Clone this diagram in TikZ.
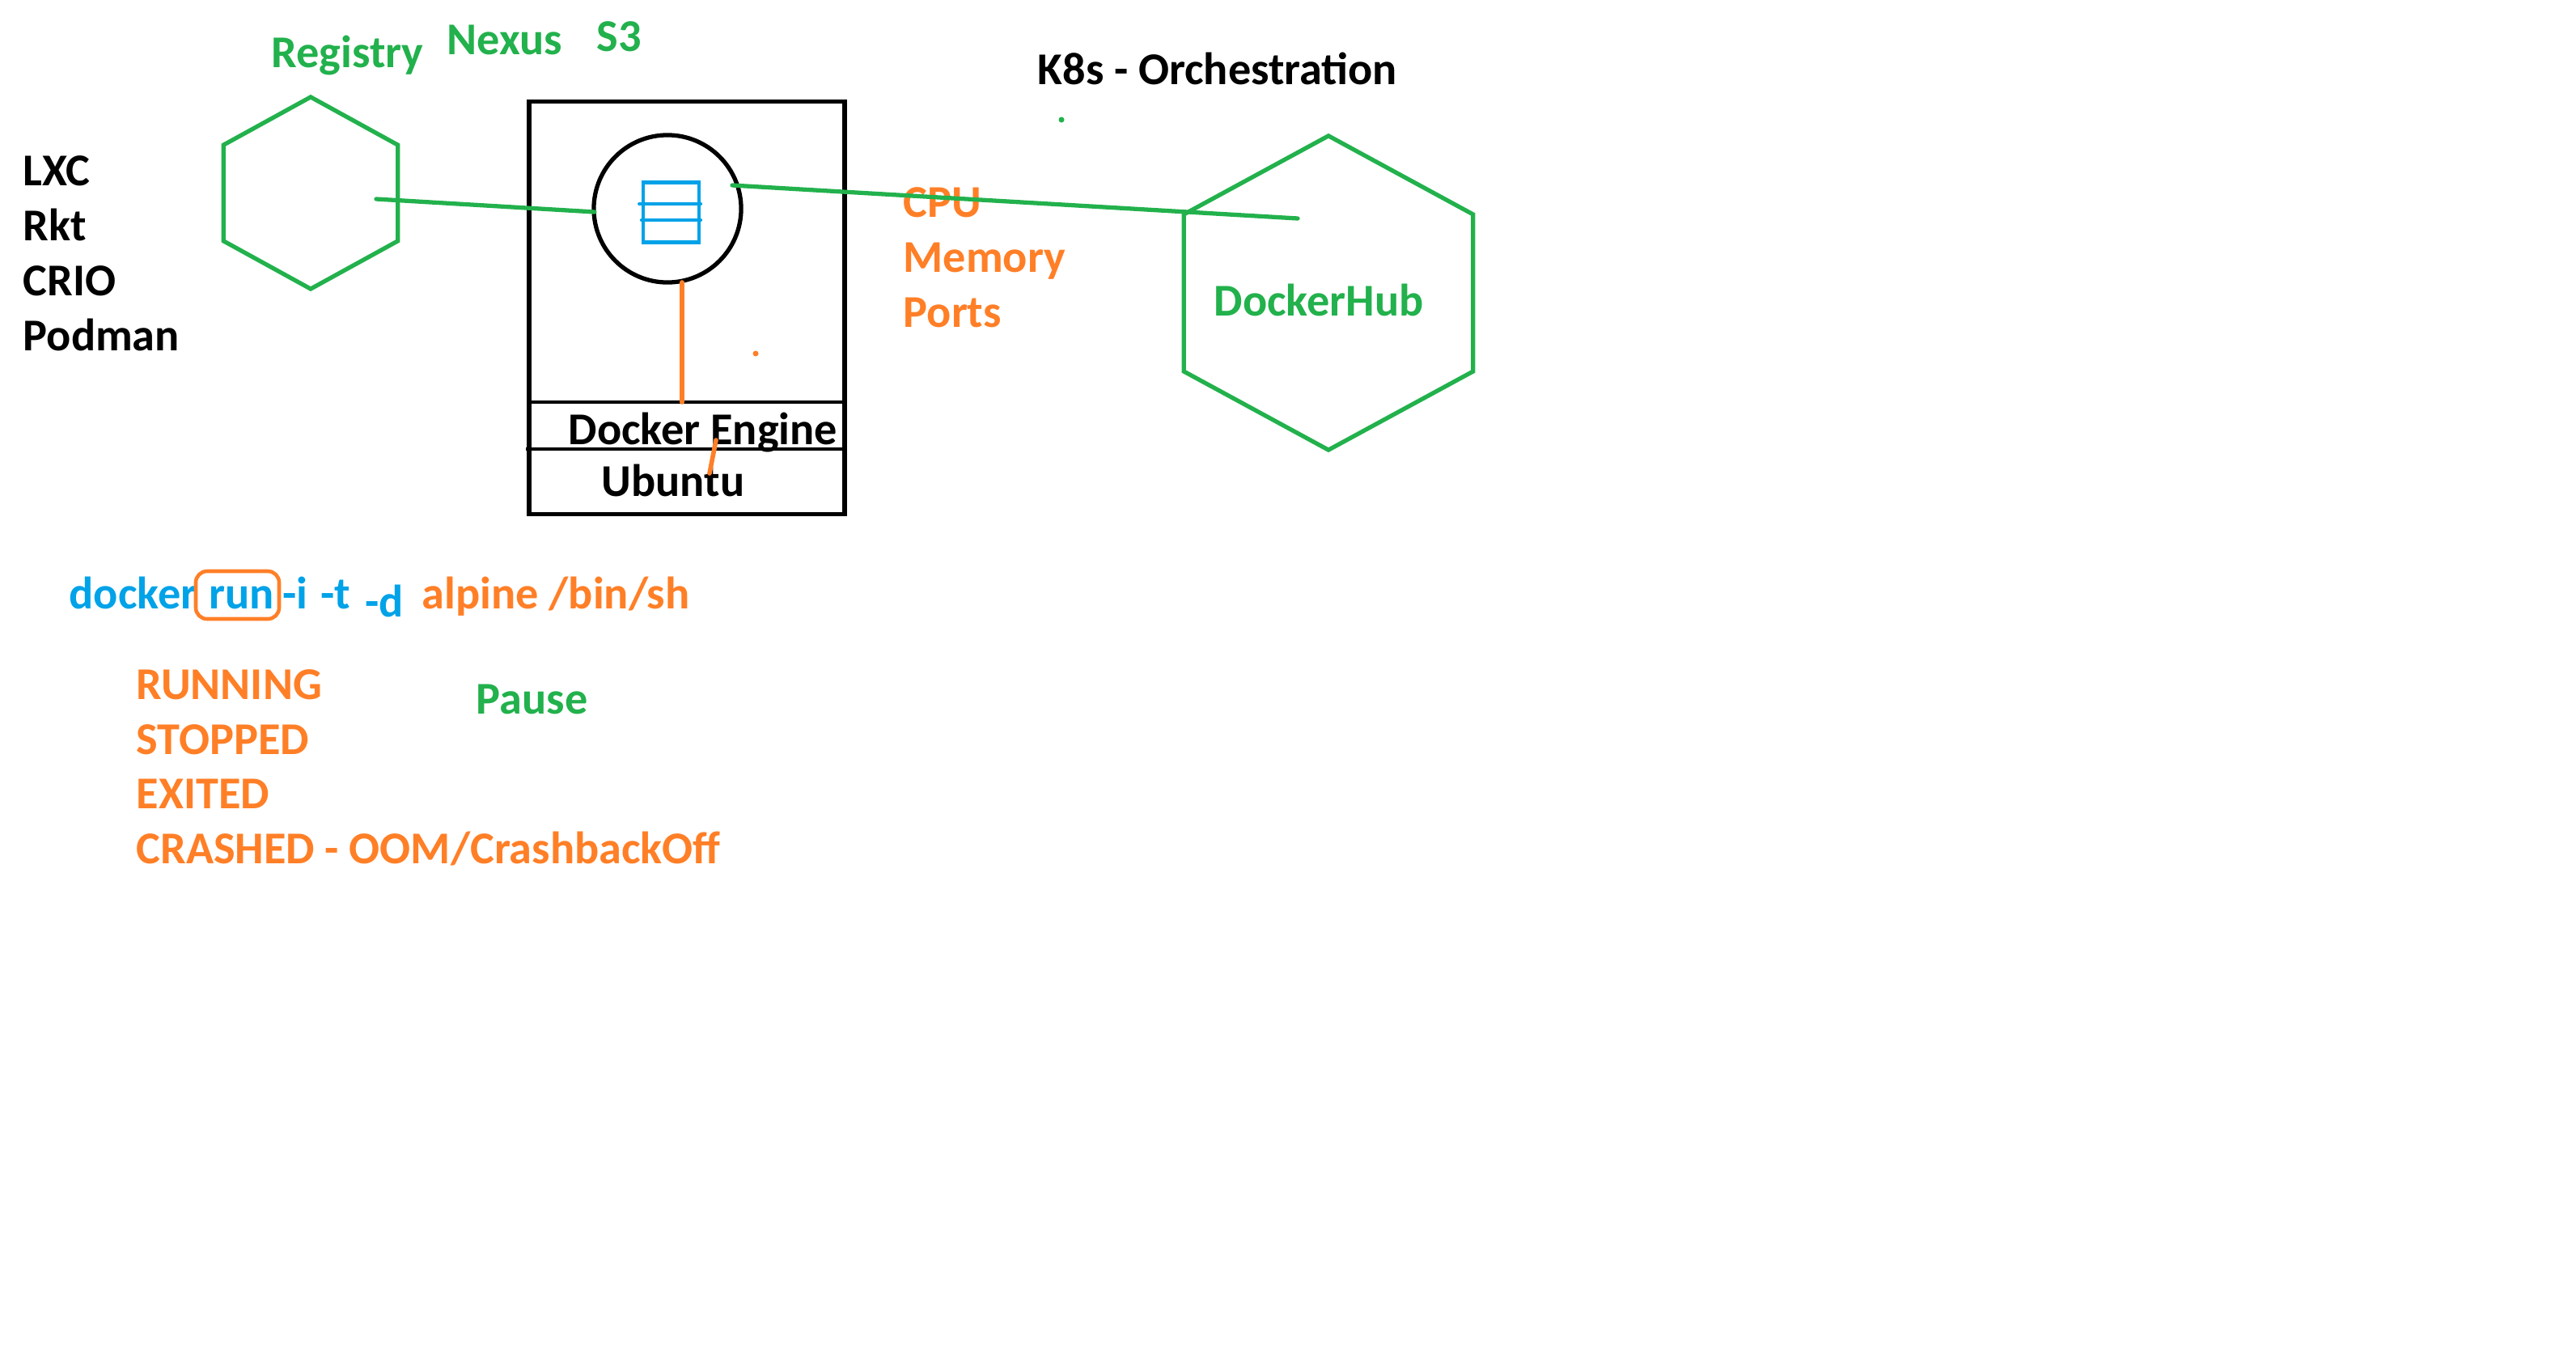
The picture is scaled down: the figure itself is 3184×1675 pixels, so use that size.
\documentclass[tikz,border=0pt]{standalone}
\usepackage{fontspec}
\setmainfont{Carlito}
\usepackage{xcolor}
\usetikzlibrary{shapes.geometric, positioning, calc}
\definecolor{paintgreen}{HTML}{22B14C}
\definecolor{paintorange}{HTML}{FF7F27}
\definecolor{paintblue}{HTML}{00A2E8}

\begin{document}
\begin{tikzpicture}[
    x=0.01cm, y=-0.01cm,
    label/.style={anchor=base west, inner sep=0pt, font=\fontsize{16}{19}\selectfont\bfseries},
    greenlabel/.style={label, text=paintgreen},
    orangelabel/.style={label, text=paintorange},
    bluelabel/.style={label, text=paintblue},
    hexnode/.style={regular polygon, regular polygon sides=6, regular polygon rotate=30, inner sep=0pt, draw=paintgreen, line width=1.5pt},
    box/.style={rectangle, inner sep=0pt, draw=black, line width=1.5pt},
    greenline/.style={draw=paintgreen, line width=1.5pt, line cap=round},
    orangeline/.style={draw=paintorange, line width=1.6pt, line cap=round},
    blackline/.style={draw=black, line width=1.3pt},
    blueline/.style={draw=paintblue, line width=1.1pt, line cap=round},
    speck/.style={circle, inner sep=0pt, minimum size=0.07cm}
]
\useasboundingbox (0,0) rectangle (3184,1675);

% Nodes
\node (host) [box, minimum width=3.9cm, minimum height=5.09cm] at (849,380.5) {};
\node (container) [circle, inner sep=0pt, draw=black, line width=1.5pt, minimum size=1.82cm] at (825,258) {};
\node (image) [rectangle, inner sep=0pt, draw=paintblue, line width=1.2pt, minimum width=0.69cm, minimum height=0.74cm] at (829.5,262.5) {};
\node (registry) [hexnode, minimum size=2.37cm, xscale=1.05] at (384,238.5) {};
\node (hub) [hexnode, minimum size=3.88cm, xscale=1.063] at (1642,362) {};

\node (lxc) [label] at (28,229) {LXC};
\node (rkt) [label] at (28,297) {Rkt};
\node (crio) [label] at (28,365) {CRIO};
\node (podman) [label] at (28,433) {Podman};

\node (registrytxt) [greenlabel] at (335,83) {Registry};
\node (nexus) [greenlabel] at (552,67) {Nexus};
\node (s3) [greenlabel] at (737,63) {S3};
\node (k8s) [label] at (1282,104) {K8s - Orchestration};
\node (hubtxt) [greenlabel] at (1500,390) {DockerHub};

\node (cpu) [orangelabel] at (1116,268) {CPU};
\node (memory) [orangelabel] at (1116,336) {Memory};
\node (ports) [orangelabel] at (1116,404) {Ports};

\node (engine) [label] at (702,549) {Docker Engine};
\node (ubuntu) [label] at (743,613) {Ubuntu};

\node (docker) [bluelabel] at (85,752) {docker};
\node (run) [bluelabel] at (258,752) {run};
\node (flagi) [bluelabel] at (349,752) {-i};
\node (flagt) [bluelabel] at (396,752) {-t};
\node (flagd) [bluelabel] at (451,762) {-d};
\node (alpine) [orangelabel] at (521,752) {alpine /bin/sh};
\node (runbox) [rectangle, rounded corners=4pt, inner sep=0pt, draw=paintorange, line width=1.3pt, minimum width=1.03cm, minimum height=0.59cm] at (293.5,735.5) {};

\node (running) [orangelabel] at (168,864) {RUNNING};
\node (stopped) [orangelabel] at (168,932) {STOPPED};
\node (exited) [orangelabel] at (168,999) {EXITED};
\node (crashed) [orangelabel] at (168,1067) {CRASHED - OOM/CrashbackOff};
\node (pause) [greenlabel] at (588,882) {Pause};

\node (orangedot) [speck, fill=paintorange] at (934,437) {};
\node (greendot) [speck, fill=paintgreen] at (1312,148) {};

% Free ends
\coordinate (regin) at (465,246);
\coordinate (contleft) at (735,262);
\coordinate (contright) at (905,229);
\coordinate (hubin) at (1604,270);
\coordinate (contdown) at (843,349);
\coordinate (enginetop) at (843,497);
\coordinate (engmark) at (885,544);
\coordinate (ubumark) at (877,585);
\coordinate (rowa) at (657,497);
\coordinate (rowb) at (650,555);
\coordinate (shelfa) at (790,252);
\coordinate (shelfb) at (image.west |- 0,272);

% Lines
\draw [blackline] (rowa) -- (rowa -| host.east);
\draw [blackline] (rowb) -- (rowb -| host.east);
\draw [blueline] (shelfa) -- (shelfa -| image.east);
\draw [blueline] (shelfb) -- (shelfb -| image.east);
\draw [greenline] (regin) -- (contleft);
\draw [greenline] (contright) -- (hubin);
\draw [orangeline] (contdown) -- (enginetop);
\draw [orangeline] (engmark) -- (ubumark);

\end{tikzpicture}
\end{document}
